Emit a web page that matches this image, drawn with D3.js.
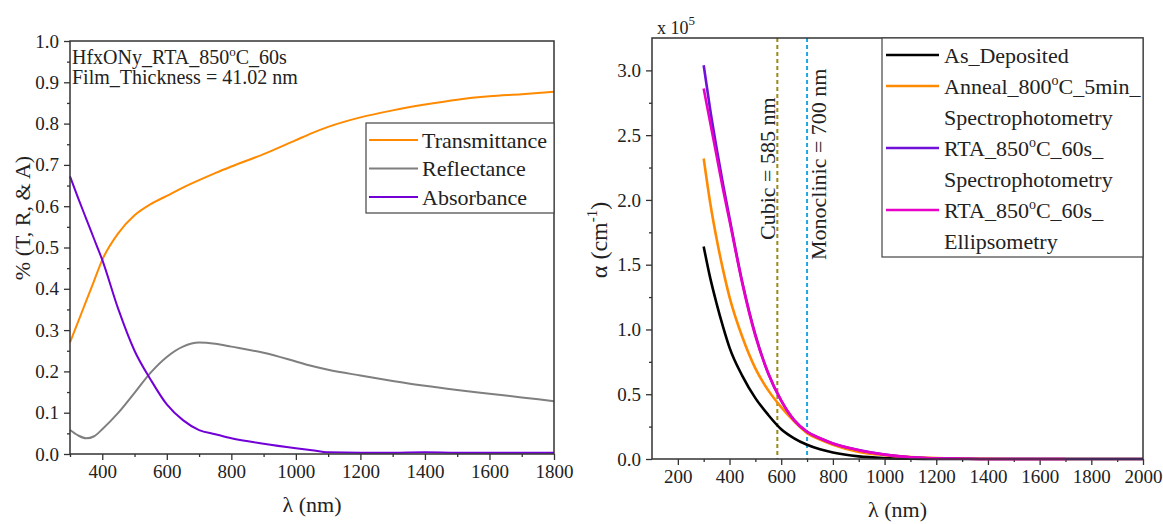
<!DOCTYPE html>
<html>
<head>
<meta charset="utf-8">
<script src="https://cdn.jsdelivr.net/npm/d3@7"></script>
<style>
  html, body { margin: 0; padding: 0; background: #fff; }
  svg text { font-family: "Liberation Serif", "Times New Roman", "DejaVu Serif", serif !important; }
</style>
</head>
<body>
<svg id="chart" width="1163" height="524"></svg>
<script>
// ---------- Left panel: optical spectra (fractions) ----------
const wlTRA = [300, 325, 350, 375, 400, 450, 500, 550, 600, 650, 700, 750, 800, 900, 1000, 1050, 1100, 1200, 1300, 1400, 1500, 1600, 1700, 1800];
const transmittance = [0.27, 0.32, 0.37, 0.42, 0.47, 0.535, 0.578, 0.605, 0.625, 0.645, 0.663, 0.68, 0.696, 0.726, 0.76, 0.777, 0.792, 0.815, 0.832, 0.846, 0.858, 0.866, 0.871, 0.877];
const reflectance   = [0.058, 0.045, 0.038, 0.043, 0.06, 0.1, 0.148, 0.197, 0.235, 0.26, 0.27, 0.267, 0.26, 0.245, 0.224, 0.213, 0.204, 0.19, 0.177, 0.165, 0.155, 0.146, 0.137, 0.128];
const absorbance    = [0.672, 0.62, 0.57, 0.52, 0.47, 0.35, 0.25, 0.18, 0.12, 0.082, 0.058, 0.048, 0.038, 0.025, 0.014, 0.009, 0.004, 0.003, 0.003, 0.004, 0.003, 0.003, 0.003, 0.003];
const traNames = ["Transmittance", "Reflectance", "Absorbance"];
const traColors = ["#ff8a00", "#7f7f7f", "#7200d6"];
const leftXTicks = [400, 600, 800, 1000, 1200, 1400, 1600, 1800];
const leftYTicks = [0, 0.1, 0.2, 0.3, 0.4, 0.5, 0.6, 0.7, 0.8, 0.9, 1.0];

// ---------- Right panel: absorption coefficient (x 10^5 cm^-1) ----------
const wlAlpha = [300, 325, 350, 375, 400, 450, 500, 550, 600, 650, 700, 750, 800, 900, 1000, 1100, 1200, 1300, 1400, 1700, 2000];
const asDeposited = [1.64, 1.4, 1.2, 1.02, 0.86, 0.64, 0.47, 0.34, 0.23, 0.16, 0.11, 0.075, 0.05, 0.02, 0.007, 0.002, 0, 0, 0, 0, 0];
const anneal800   = [2.32, 1.98, 1.7, 1.46, 1.25, 0.94, 0.7, 0.53, 0.4, 0.29, 0.2, 0.15, 0.11, 0.055, 0.03, 0.016, 0.008, 0.004, 0.001, 0, 0];
const rtaSpectro  = [3.04, 2.7, 2.4, 2.12, 1.86, 1.36, 0.96, 0.66, 0.45, 0.3, 0.21, 0.16, 0.12, 0.07, 0.035, 0.014, 0.005, 0.002, 0, 0, 0];
const rtaEllips   = [2.86, 2.6, 2.34, 2.08, 1.84, 1.35, 0.95, 0.66, 0.45, 0.3, 0.21, 0.16, 0.12, 0.068, 0.034, 0.013, 0.005, 0.002, 0, 0, null];
const alphaNames = [["As_Deposited"], ["Anneal_800°C_5min_", "Spectrophotometry"], ["RTA_850°C_60s_", "Spectrophotometry"], ["RTA_850°C_60s_", "Ellipsometry"]];
const alphaColors = ["#000000", "#ff8a00", "#7010d8", "#e800c8"];
const rightXTicks = [200, 400, 600, 800, 1000, 1200, 1400, 1600, 1800, 2000];
const rightYTicks = [0, 0.5, 1.0, 1.5, 2.0, 2.5, 3.0];
const phaseMarks = [{ label: "Cubic = 585 nm", wl: 585, color: "#9a8a16" },
                    { label: "Monoclinic = 700 nm", wl: 700, color: "#1fa6e2" }];

const svg = d3.select("#chart");
const fmt1 = d3.format(".1f");

function frame(g, x, y) {
  const [x0, x1] = x.range(), [y0, y1] = y.range();
  g.append("rect").attr("x", x0).attr("y", y1).attr("width", x1 - x0).attr("height", y0 - y1)
    .attr("fill", "none").attr("stroke", "#333").attr("stroke-width", 1.5);
}

function axes(g, x, y, xTicks, xMinor, yTicks, yMinor) {
  const [y0] = y.range(), [x0] = x.range();
  g.append("g").attr("transform", `translate(0,${y0})`)
    .call(d3.axisBottom(x).tickValues(xTicks).tickSize(6).tickPadding(5).tickFormat(d3.format("d")));
  g.append("g").attr("transform", `translate(0,${y0})`)
    .call(d3.axisBottom(x).tickValues(xMinor).tickSize(3).tickFormat(""));
  g.append("g").attr("transform", `translate(${x0},0)`)
    .call(d3.axisLeft(y).tickValues(yTicks).tickSize(6).tickPadding(5).tickFormat(fmt1));
  g.append("g").attr("transform", `translate(${x0},0)`)
    .call(d3.axisLeft(y).tickValues(yMinor).tickSize(3).tickFormat(""));
  g.selectAll(".domain").remove();
  g.selectAll(".tick line").attr("stroke", "#333").attr("stroke-width", 1.3);
  g.selectAll(".tick text").attr("font-size", 19).attr("fill", "#222");
}

// ===== Left panel =====
const L = svg.append("g");
const xL = d3.scaleLinear().domain([300, 1800]).range([70, 554]);
const yL = d3.scaleLinear().domain([0, 1]).range([454, 41]);
axes(L, xL, yL, leftXTicks, d3.range(300, 1800, 200), leftYTicks, d3.range(0.05, 1, 0.1));

const lineL = d3.line().x((d, i) => xL(wlTRA[i])).y(d => yL(d)).curve(d3.curveMonotoneX);
[transmittance, reflectance, absorbance].forEach((s, k) => {
  L.append("path").datum(s).attr("d", lineL).attr("fill", "none")
    .attr("stroke", traColors[k]).attr("stroke-width", 2);
});
frame(L, xL, yL);

const ann = L.append("text").attr("x", 72).attr("y", 64).attr("font-size", 20).attr("fill", "#222");
ann.append("tspan").text("HfxONy_RTA_850");
ann.append("tspan").attr("font-size", 13).attr("dy", -8).text("o");
ann.append("tspan").attr("dy", 8).text("C_60s");
L.append("text").attr("x", 72).attr("y", 84).attr("font-size", 20).attr("fill", "#222")
  .text("Film_Thickness = 41.02 nm");

// legend
const legL = L.append("g");
legL.append("rect").attr("x", 366).attr("y", 123).attr("width", 188).attr("height", 90)
  .attr("fill", "#fff").attr("stroke", "#444").attr("stroke-width", 1.2);
traNames.forEach((n, k) => {
  const yy = 140 + k * 28.5;
  legL.append("line").attr("x1", 369).attr("x2", 418).attr("y1", yy).attr("y2", yy)
    .attr("stroke", traColors[k]).attr("stroke-width", 2);
  legL.append("text").attr("x", 422).attr("y", yy).attr("dy", "0.35em")
    .attr("font-size", 22).attr("fill", "#222").text(n);
});

L.append("text").attr("x", (70 + 554) / 2).attr("y", 512).attr("text-anchor", "middle")
  .attr("font-size", 22).attr("fill", "#222").text("λ (nm)");
L.append("text").attr("transform", "translate(30,218) rotate(-90)").attr("text-anchor", "middle")
  .attr("font-size", 22).attr("fill", "#222").text("% (T, R, & A)");

// ===== Right panel =====
const R = svg.append("g");
const xR = d3.scaleLinear().domain([100, 2000]).range([652, 1143]);
const yR = d3.scaleLinear().domain([0, 3.25]).range([459, 38]);
axes(R, xR, yR, rightXTicks, d3.range(300, 2000, 200), rightYTicks, d3.range(0.25, 3.25, 0.5));

phaseMarks.forEach(m => {
  R.append("line").attr("x1", xR(m.wl)).attr("x2", xR(m.wl)).attr("y1", yR(3.25)).attr("y2", yR(0))
    .attr("stroke", m.color).attr("stroke-width", 2).attr("stroke-dasharray", "4,3");
});

const lineR = d3.line().defined(d => d !== null)
  .x((d, i) => xR(wlAlpha[i])).y(d => yR(d)).curve(d3.curveMonotoneX);
[asDeposited, anneal800, rtaSpectro, rtaEllips].forEach((s, k) => {
  R.append("path").datum(s).attr("d", lineR).attr("fill", "none")
    .attr("stroke", alphaColors[k]).attr("stroke-width", 2.6);
});
frame(R, xR, yR);

// phase labels
R.append("text").attr("transform", `translate(${xR(585) - 2},240) rotate(-90)`)
  .attr("font-size", 22).attr("fill", "#222").text(phaseMarks[0].label);
R.append("text").attr("transform", `translate(${xR(700) + 19},260) rotate(-90)`)
  .attr("font-size", 22).attr("fill", "#222").text(phaseMarks[1].label);

// legend
const legR = R.append("g");
legR.append("rect").attr("x", 882).attr("y", 38).attr("width", 261).attr("height", 219)
  .attr("fill", "#fff").attr("stroke", "#444").attr("stroke-width", 1.2);
let row = 0;
alphaNames.forEach((lines, k) => {
  const yy = 55 + row * 31;
  legR.append("line").attr("x1", 886).attr("x2", 939).attr("y1", yy).attr("y2", yy)
    .attr("stroke", alphaColors[k]).attr("stroke-width", 2.6);
  lines.forEach((t, j) => {
    const tx = legR.append("text").attr("x", 944).attr("y", 55 + (row + j) * 31).attr("dy", "0.35em")
      .attr("font-size", 22).attr("fill", "#222");
    const parts = t.split("°");
    if (parts.length === 2) {
      tx.append("tspan").text(parts[0]);
      tx.append("tspan").attr("font-size", 14).attr("dy", -9).text("o");
      tx.append("tspan").attr("dy", 9).text(parts[1]);
    } else tx.text(t);
  });
  row += lines.length;
});

// scale factor and axis titles
const sf = R.append("text").attr("x", 657).attr("y", 34).attr("font-size", 18).attr("fill", "#222");
sf.append("tspan").text("x 10");
sf.append("tspan").attr("font-size", 13).attr("dy", -9).text("5");

R.append("text").attr("x", (652 + 1143) / 2).attr("y", 517).attr("text-anchor", "middle")
  .attr("font-size", 22).attr("fill", "#222").text("λ (nm)");
const yt = R.append("text").attr("transform", "translate(607,240) rotate(-90)").attr("text-anchor", "middle")
  .attr("font-size", 24).attr("fill", "#222");
yt.append("tspan").text("α (cm");
yt.append("tspan").attr("font-size", 15).attr("dy", -10).text("-1");
yt.append("tspan").attr("dy", 10).text(")");
</script>
</body>
</html>
